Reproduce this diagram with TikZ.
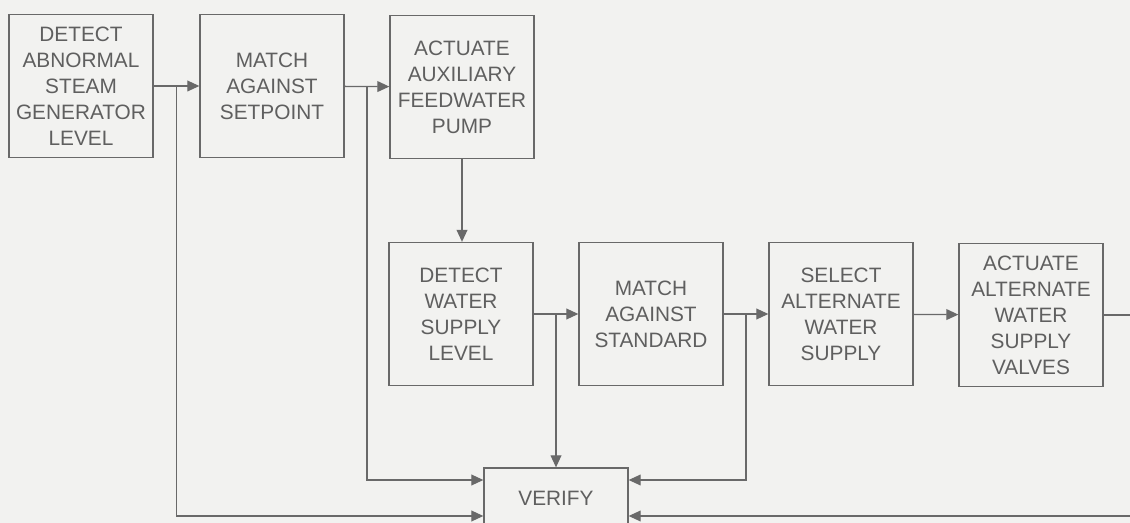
\documentclass[tikz,border=0pt]{standalone}
\usepackage{fontspec}
\setmainfont{Liberation Sans}
\usepackage{tikz}
\usetikzlibrary{arrows.meta, positioning, calc}

\definecolor{paper}{RGB}{242,242,240}
\definecolor{ink}{RGB}{105,105,105}
\definecolor{inktext}{RGB}{95,95,95}

\begin{document}
\begin{tikzpicture}[
  x=0.025cm, y=-0.025cm,
  block/.style={draw=ink, line width=0.9pt, minimum width=3.6cm, minimum height=3.575cm, inner sep=2pt, align=center, text=inktext, font=\fontsize{14.8}{18.5}\selectfont},
  wire/.style={draw=ink, line width=0.9pt},
  arr/.style={wire, -{Triangle[length=3mm, width=2.7mm]}}
]
\useasboundingbox (0,0) rectangle (1130,523);
\clip (0,0) rectangle (1130,523);
\fill[paper] (0,0) rectangle (1130,523);

% top row
\node[block] (detsg) at (81, 86) {DETECT\\ABNORMAL\\STEAM\\GENERATOR\\LEVEL};
\node[block] (matchsp) at (272, 86) {MATCH\\AGAINST\\SETPOINT};
\node[block] (afwpump) at (462, 87) {ACTUATE\\AUXILIARY\\FEEDWATER\\PUMP};

% bottom row
\node[block] (detws) at (461, 314) {DETECT\\WATER\\SUPPLY\\LEVEL};
\node[block] (matchstd) at (651, 314) {MATCH\\AGAINST\\STANDARD};
\node[block] (selalt) at (841, 314) {SELECT\\ALTERNATE\\WATER\\SUPPLY};
\node[block] (valves) at (1031, 315) {ACTUATE\\ALTERNATE\\WATER\\SUPPLY\\VALVES};

\node[block, minimum height=1.5cm] (verify) at (556, 498) {VERIFY};

% branch points
\coordinate (b1) at ($(detsg.east)!0.5!(matchsp.west)$);
\coordinate (b2) at ($(matchsp.east)!0.5!(afwpump.west)$);
\coordinate (b3) at ($(detws.east)!0.5!(matchstd.west)$);
\coordinate (b4) at ($(matchstd.east)!0.5!(selalt.west)$);
\coordinate (outR) at (1130, 315);
\coordinate (inR) at (1130, 516);

\draw[arr] (detsg) -- (matchsp);
\draw[arr] (matchsp) -- (afwpump);
\draw[arr] (afwpump) -- (afwpump |- detws.north);
\draw[arr] (detws) -- (matchstd);
\draw[arr] (matchstd) -- (selalt);
\draw[arr] (selalt) -- (valves);
\draw[wire] (valves) -- (outR);

\draw[arr] (b1) |- ($(verify.west)+(0,18)$);
\draw[arr] (b2) |- ($(verify.west)+(0,-18)$);
\draw[arr] (b3) -- (b3 |- verify.north);
\draw[arr] (b4) |- ($(verify.east)+(0,-18)$);
\draw[arr] (inR) -- ($(verify.east)+(0,18)$);

\end{tikzpicture}
\end{document}
